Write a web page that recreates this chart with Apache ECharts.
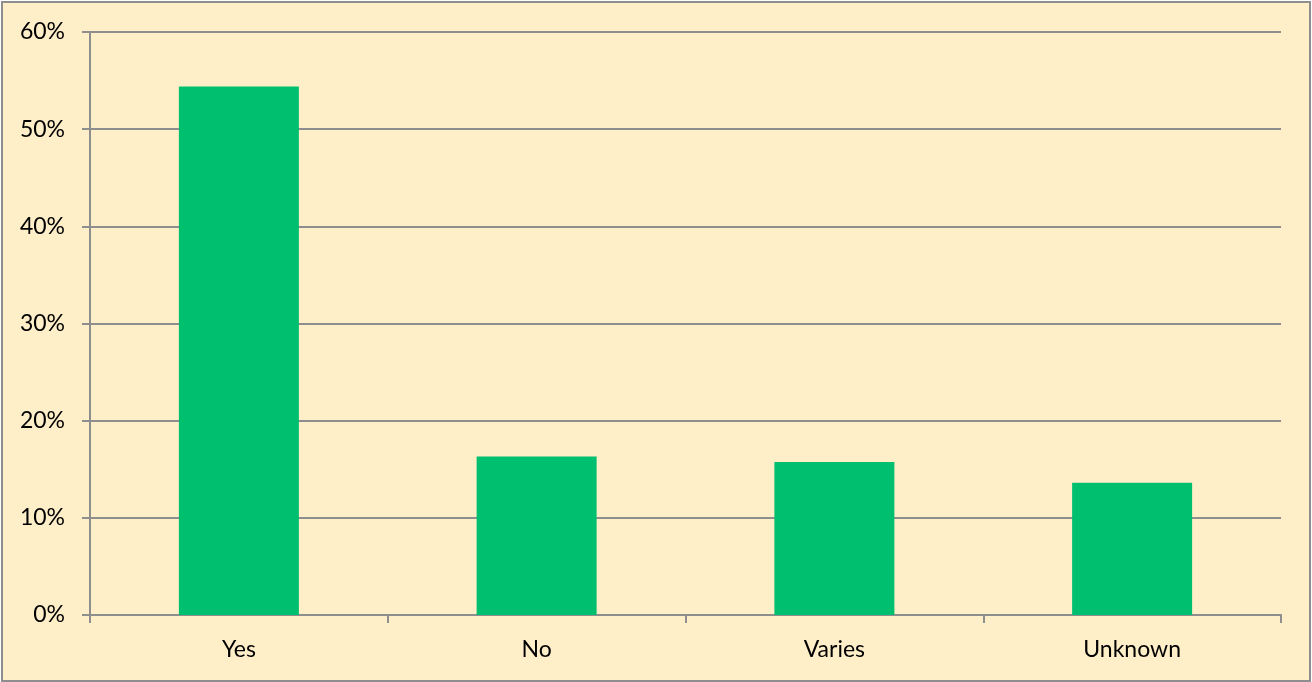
<!DOCTYPE html>
<html><head><meta charset="utf-8">
<script src="https://cdn.jsdelivr.net/npm/echarts@6/dist/echarts.min.js"></script>
<style>html,body{margin:0;padding:0;background:#fff;}#c{width:1312px;height:682px;}</style>
</head><body><div id="c"></div>
<script>
const categories = ['Yes', 'No', 'Varies', 'Unknown'];
const values = [54.4, 16.3, 15.75, 13.6];
const yTicks = [0, 10, 20, 30, 40, 50, 60];

const chart = echarts.init(document.getElementById('c'), null, {renderer: 'canvas'});
chart.setOption({
  backgroundColor: '#ffffff',
  animation: false,
  graphic: [{
    type: 'rect', z: -10, silent: true,
    shape: {x: 2, y: 2, width: 1308, height: 679},
    style: {fill: '#FFEFC9', stroke: '#8E8E8E', lineWidth: 2}
  }],
  grid: {left: 90, top: 32, right: 31, bottom: 67, containLabel: false},
  xAxis: {
    type: 'category', data: categories,
    axisLine: {lineStyle: {color: '#8E8E8E', width: 2}},
    axisTick: {show: true, alignWithLabel: false, length: 8, lineStyle: {color: '#8E8E8E', width: 2}},
    axisLabel: {color: '#000', fontFamily: 'Lato', fontSize: 23, margin: 23}
  },
  yAxis: {
    type: 'value', min: yTicks[0], max: yTicks[yTicks.length - 1], interval: 10,
    axisLine: {show: true, lineStyle: {color: '#8E8E8E', width: 2}},
    axisTick: {show: true, length: 8, lineStyle: {color: '#8E8E8E', width: 2}},
    splitLine: {lineStyle: {color: '#8E8E8E', width: 2}},
    axisLabel: {color: '#000', fontFamily: 'Lato', fontSize: 23, margin: 25, formatter: '{value}%'}
  },
  series: [{
    type: 'bar', data: values, barWidth: 120,
    itemStyle: {color: '#00BF6F'}
  }]
});
</script></body></html>
